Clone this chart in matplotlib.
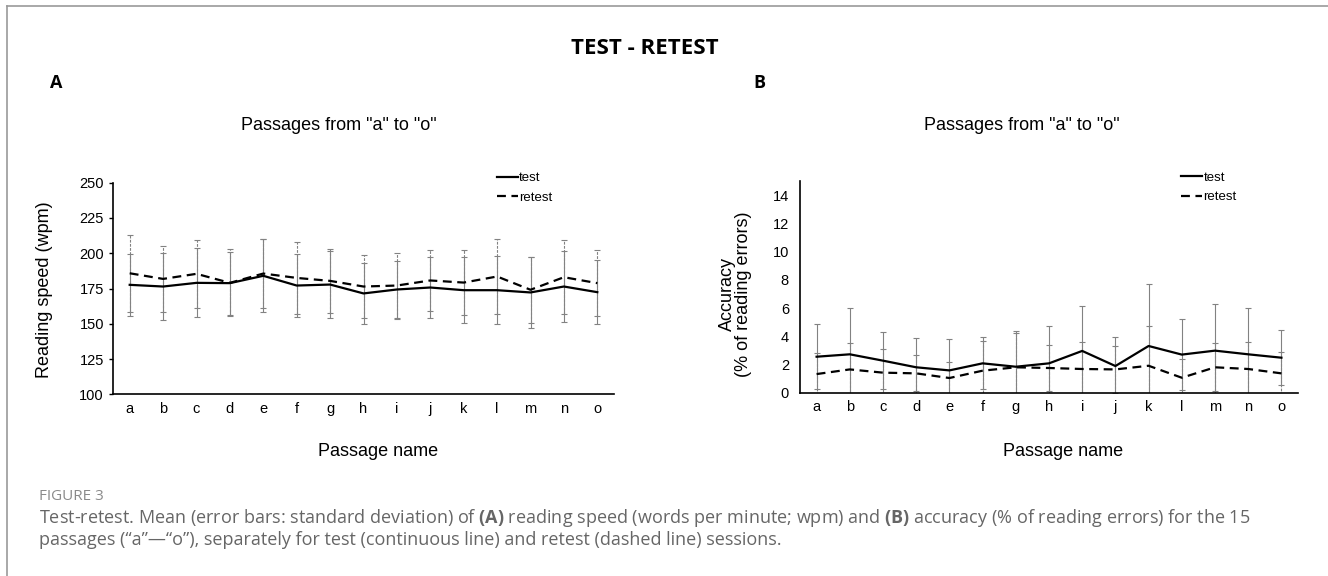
import matplotlib
matplotlib.use('Agg')
import matplotlib.pyplot as plt
from matplotlib.lines import Line2D
import numpy as np

plt.rcParams['font.family'] = ['Liberation Sans', 'DejaVu Sans']
plt.rcParams['mathtext.fontset'] = 'custom'
plt.rcParams['mathtext.rm'] = 'Open Sans'
plt.rcParams['mathtext.bf'] = 'Open Sans:bold'

# ---------------- data ----------------
categories = list('abcdefghijklmno')

speed_test = [177.6, 176.4, 179.0, 178.8, 184.0, 177.1, 177.8, 171.5, 174.3, 175.7, 173.8, 173.8, 172.2, 176.4, 172.4]
speed_test_sd = [21.9, 23.6, 24.5, 22.4, 26.0, 22.4, 23.9, 21.5, 20.5, 21.3, 23.2, 24.3, 25.4, 25.5, 22.9]
speed_retest = [185.8, 181.8, 185.4, 179.0, 185.6, 182.5, 180.4, 176.4, 177.1, 180.7, 179.2, 183.5, 174.1, 183.0, 178.8]
speed_retest_sd = [27.2, 23.4, 24.0, 23.8, 24.5, 25.5, 22.9, 22.6, 23.4, 21.7, 23.2, 26.4, 23.5, 26.4, 23.6]

acc_test = [2.55, 2.72, 2.27, 1.80, 1.58, 2.08, 1.84, 2.08, 2.96, 1.89, 3.31, 2.70, 2.98, 2.72, 2.48]
acc_test_sd = [2.30, 3.31, 2.03, 2.10, 2.20, 1.84, 2.56, 2.67, 3.19, 2.08, 4.40, 2.50, 3.28, 3.26, 1.94]
acc_retest = [1.32, 1.65, 1.42, 1.37, 1.04, 1.56, 1.80, 1.75, 1.68, 1.65, 1.91, 1.06, 1.80, 1.68, 1.37]
acc_retest_sd = [1.50, 1.85, 1.65, 1.28, 1.16, 2.13, 2.46, 1.63, 1.89, 1.66, 2.84, 1.30, 1.70, 1.89, 1.51]

speed_ticks = [100, 125, 150, 175, 200, 225, 250]
acc_ticks = [0, 2, 4, 6, 8, 10, 12, 14]

# ---------------- layout helpers ----------------
W, H = 1328, 576
fig = plt.figure(figsize=(W / 100, H / 100), dpi=100)
fig.patch.set_facecolor('white')


def fx(v):
    return v / W


def fy(v):
    return 1 - v / H


axA = fig.add_axes([fx(113), fy(394.3), (614 - 113) / W, (394.3 - 182.7) / H])
axB = fig.add_axes([fx(800), fy(392.7), (1298 - 800) / W, (392.7 - 181.0) / H])

x = np.arange(len(categories))
DASH = (4, 2.5)
ECOL = '#828282'


def draw(ax, test, test_sd, retest, retest_sd):
    ebr = ax.errorbar(x, retest, yerr=retest_sd, fmt='none', ecolor=ECOL,
                      elinewidth=0.8, capsize=2, capthick=0.8, zorder=2)
    ebr[2][0].set_linestyle((0, (2.5, 1.2)))
    ax.errorbar(x, test, yerr=test_sd, fmt='none', ecolor=ECOL,
                elinewidth=0.8, capsize=2, capthick=0.8, zorder=2)
    ax.plot(x, test, color='black', lw=1.6, zorder=3)
    ax.plot(x, retest, color='black', lw=1.6, dashes=DASH, zorder=3)
    ax.set_xlim(-0.5, len(categories) - 0.5)
    ax.set_xticks(x)
    ax.set_xticklabels(categories)
    for s in ['top', 'right']:
        ax.spines[s].set_visible(False)
    for s in ['left', 'bottom']:
        ax.spines[s].set_linewidth(1.2)
        ax.spines[s].set_color('black')
    ax.tick_params(axis='x', length=0, pad=5.5, labelsize=10.5)
    handles = [Line2D([], [], color='black', lw=1.6),
               Line2D([], [], color='black', lw=1.6, dashes=DASH)]
    return handles


hA = draw(axA, speed_test, speed_test_sd, speed_retest, speed_retest_sd)
axA.set_ylim(100, 250)
axA.set_yticks(speed_ticks)
axA.tick_params(axis='y', length=3, width=1, pad=3.5, labelsize=10.5, direction='out')
axA.legend(hA, ['test', 'retest'], loc='upper left', bbox_to_anchor=(0.766, 1.05),
           frameon=False, fontsize=9.5, handlelength=1.6, handletextpad=0.1,
           labelspacing=0.55, borderpad=0, borderaxespad=0)

hB = draw(axB, acc_test, acc_test_sd, acc_retest, acc_retest_sd)
axB.set_ylim(0, 15)
axB.set_yticks(acc_ticks)
axB.tick_params(axis='y', length=0, pad=8, labelsize=10.5)
axB.legend(hB, ['test', 'retest'], loc='upper left', bbox_to_anchor=(0.765, 1.045),
           frameon=False, fontsize=9.5, handlelength=1.6, handletextpad=0.1,
           labelspacing=0.55, borderpad=0, borderaxespad=0)

# ---------------- texts ----------------
fig.text(fx(644.5), fy(48), 'TEST - RETEST', ha='center', va='center', fontsize=16,
         fontweight='bold', family='Open Sans')
fig.text(fx(56), fy(83), 'A', ha='center', va='center', fontsize=13, fontweight='bold',
         family='Open Sans')
fig.text(fx(759), fy(83), 'B', ha='center', va='center', fontsize=13, fontweight='bold',
         family='Open Sans')

for cx in (339, 1022):
    fig.text(fx(cx), fy(125), 'Passages from "a" to "o"', ha='center', va='center', fontsize=13)
for cx in (378, 1063):
    fig.text(fx(cx), fy(452), 'Passage name', ha='center', va='center', fontsize=13)

fig.text(fx(44.5), fy(290), 'Reading speed (wpm)', rotation=90, ha='center', va='center',
         fontsize=13)
fig.text(fx(735.5), fy(294), 'Accuracy\n(% of reading errors)', rotation=90, ha='center',
         va='center', multialignment='center', linespacing=1.0, fontsize=13)

# caption
fig.text(fx(39), fy(497), 'FIGURE 3', ha='left', va='center', fontsize=11,
         color='#8a8a8a', family='Open Sans')
fig.text(fx(39), fy(518),
         r'Test-retest. Mean (error bars: standard deviation) of $\mathbf{(A)}$ reading speed '
         r'(words per minute; wpm) and $\mathbf{(B)}$ accuracy (% of reading errors) for the 15',
         ha='left', va='center', fontsize=13, color='#666666', family='Open Sans')
fig.text(fx(39), fy(540),
         'passages (\u201ca\u201d\u2014\u201co\u201d), separately for test (continuous line) and '
         'retest (dashed line) sessions.',
         ha='left', va='center', fontsize=13, color='#666666', family='Open Sans')

# frame
fig.add_artist(Line2D([fx(7), fx(7)], [fy(6), 0], color='#999999', lw=1.2))
fig.add_artist(Line2D([fx(7), 1], [fy(6), fy(6)], color='#999999', lw=1.2))

fig.savefig('out.png', dpi=100)
